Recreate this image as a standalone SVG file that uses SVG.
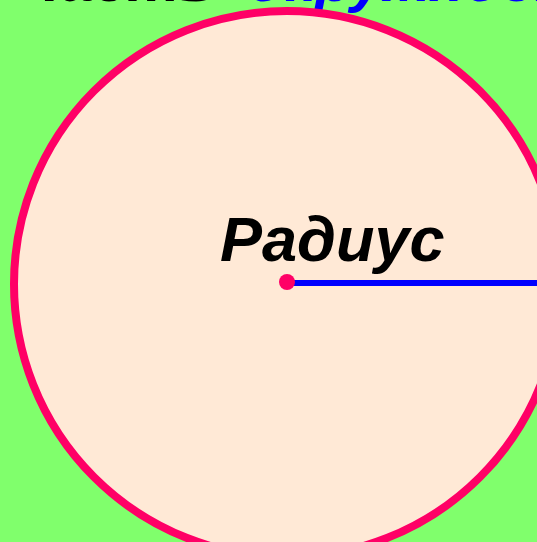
<svg xmlns="http://www.w3.org/2000/svg" width="537" height="542" viewBox="0 0 537 542">
<style>
.title{font-family:"Liberation Sans",Arial,sans-serif;font-weight:bold;font-style:italic;font-size:60px}
.lbl{font-family:"Liberation Sans",Arial,sans-serif;font-weight:bold;font-style:italic;font-size:63px;fill:#000}
</style>
<rect width="537" height="542" fill="#80FF6C"/>
<text class="title" x="18" y="1" fill="#000">Часть</text>
<text class="title" x="248" y="1" fill="#0000FF">окружности</text>
<g id="circle">
<circle cx="287" cy="284" r="273" fill="#FFE9D6" stroke="#FF0066" stroke-width="8"/>
</g>
<g id="connectors">
<line x1="287" y1="283" x2="537" y2="283" stroke="#0000FF" stroke-width="6"/>
</g>
<g id="center">
<circle cx="287" cy="282" r="8" fill="#FF0066"/>
</g>
<g id="label">
<text class="lbl" x="220" y="261">Радиус</text>
</g>
</svg>
